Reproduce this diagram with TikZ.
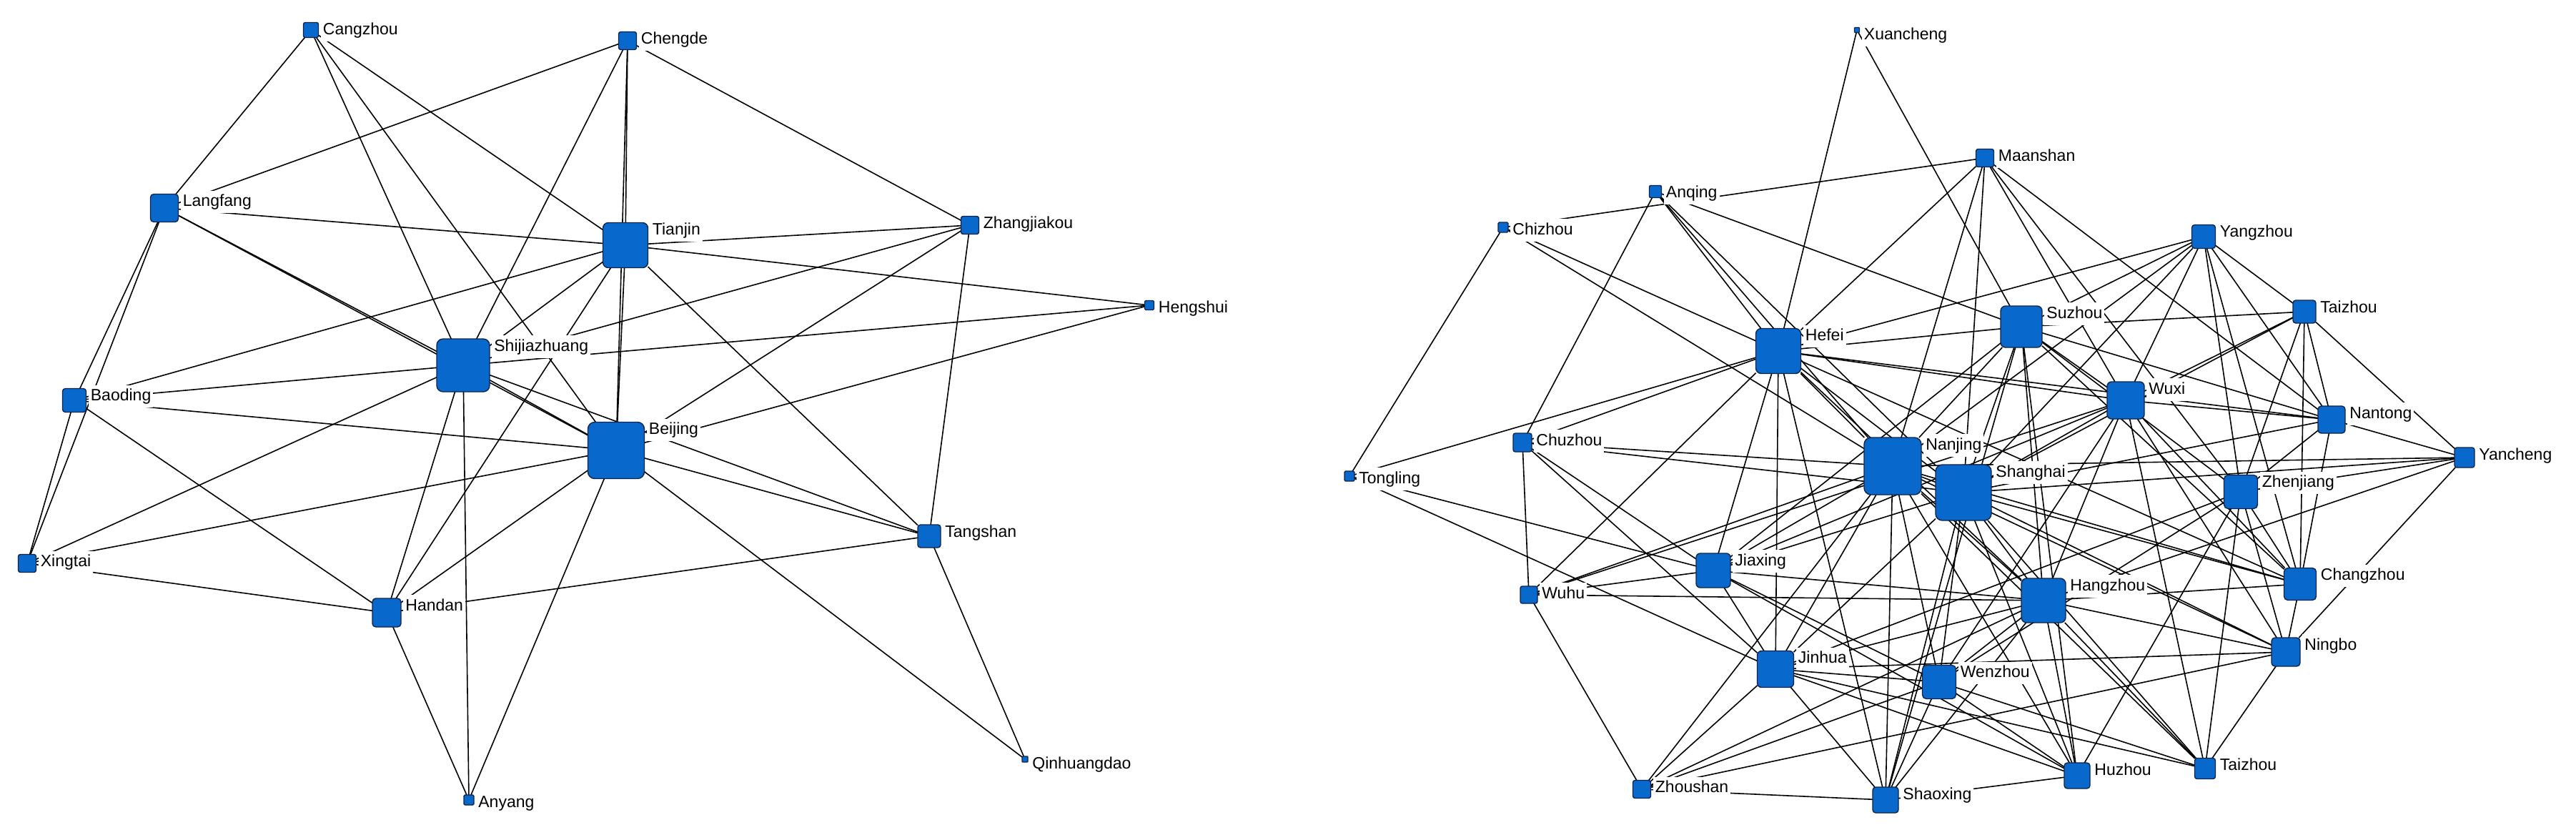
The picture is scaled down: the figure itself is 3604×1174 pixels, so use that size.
\documentclass[tikz,border=0pt]{standalone}
\usepackage{fontspec}
\setmainfont{Liberation Sans}
\definecolor{nodeblue}{RGB}{8,104,204}
\definecolor{nodeborder}{RGB}{16,36,72}
\pgfdeclarelayer{bg}
\pgfdeclarelayer{lab}
\pgfsetlayers{bg,lab,main}
\tikzset{
  cn/.style={rectangle, draw=nodeborder, fill=nodeblue, line width=0.7pt, inner sep=0pt, outer sep=0pt},
  lbl/.style={anchor=north west, fill=white, inner xsep=1.5pt, inner ysep=2.5pt,
              text height=8.3pt, text depth=2.3pt, font=\fontsize{11.5}{12}\selectfont},
  lnk/.style={draw=black, line width=0.8pt}
}
\newcommand\city[5]{%
  \pgfmathsetlengthmacro\csz{#4*0.5pt}%
  \pgfmathsetlengthmacro\crr{#4*0.06pt}%
  \node[cn, minimum size=\csz, rounded corners=\crr] (#1) at (#2,#3) {};
  \begin{pgfonlayer}{lab}
    \node[lbl] (#1-l) at ([xshift=1.5pt,yshift=2.5pt]#1.north east) {#5};
  \end{pgfonlayer}}
\begin{document}
\begin{tikzpicture}[x=0.5pt,y=-0.5pt]
\useasboundingbox (0,0) rectangle (3604,1174);
\begin{pgfonlayer}{bg}
\fill[white] (0,0) rectangle (3604,1174);
\end{pgfonlayer}
% ---------------- left network ----------------
\city{cangzhou}{435}{42}{21}{Cangzhou}
\city{chengde}{878}{57}{25}{Chengde}
\city{langfang}{230}{291}{39}{Langfang}
\city{tianjin}{875}{343}{63}{Tianjin}
\city{zhangjiakou}{1357}{315}{25}{Zhangjiakou}
\city{hengshui}{1608}{427}{13}{Hengshui}
\city{shijiazhuang}{648}{511}{74}{Shijiazhuang}
\city{baoding}{104}{560}{33}{Baoding}
\city{beijing}{862}{630}{79}{Beijing}
\city{tangshan}{1300}{750}{32}{Tangshan}
\city{xingtai}{38}{788}{25}{Xingtai}
\city{handan}{541}{857}{40}{Handan}
\city{anyang}{656}{1119}{14}{Anyang}
\city{qinhuangdao}{1434}{1062}{8}{Qinhuangdao}
% ---------------- right network ----------------
\city{xuancheng}{2598}{42}{7}{Xuancheng}
\city{maanshan}{2777}{221}{25}{Maanshan}
\city{anqing}{2316}{268}{17}{Anqing}
\city{chizhou}{2103}{318}{14}{Chizhou}
\city{yangzhou}{3083}{331}{33}{Yangzhou}
\city{taizhouN}{3224}{436}{32}{Taizhou}
\city{hefei}{2488}{491}{63}{Hefei}
\city{suzhou}{2828}{457}{58}{Suzhou}
\city{wuxi}{2974}{560}{52}{Wuxi}
\city{nantong}{3262}{587}{38}{Nantong}
\city{yancheng}{3448}{640}{28}{Yancheng}
\city{chuzhou}{2130}{619}{26}{Chuzhou}
\city{tongling}{1888}{666}{14}{Tongling}
\city{nanjing}{2648}{652}{80}{Nanjing}
\city{shanghai}{2747}{689}{78}{Shanghai}
\city{zhenjiang}{3135}{688}{47}{Zhenjiang}
\city{jiaxing}{2397}{798}{48}{Jiaxing}
\city{changzhou}{3218}{817}{45}{Changzhou}
\city{wuhu}{2139}{832}{24}{Wuhu}
\city{hangzhou}{2859}{840}{62}{Hangzhou}
\city{ningbo}{3198}{912}{40}{Ningbo}
\city{jinhua}{2484}{936}{51}{Jinhua}
\city{wenzhou}{2713}{954}{47}{Wenzhou}
\city{zhoushan}{2297}{1104}{25}{Zhoushan}
\city{shaoxing}{2638}{1119}{36}{Shaoxing}
\city{huzhou}{2906}{1085}{36}{Huzhou}
\city{taizhouS}{3085}{1075}{29}{Taizhou}
% ---------------- edges ----------------
\begin{pgfonlayer}{bg}
\foreach \a/\b in {
 cangzhou/langfang, cangzhou/shijiazhuang, cangzhou/beijing, cangzhou/tianjin,
 chengde/langfang, chengde/tianjin, chengde/shijiazhuang, chengde/zhangjiakou, chengde/beijing,
 langfang/tianjin, langfang/shijiazhuang, langfang/beijing, langfang/baoding, langfang/xingtai,
 tianjin/zhangjiakou, tianjin/hengshui, tianjin/beijing, tianjin/tangshan, tianjin/baoding,
 tianjin/shijiazhuang, tianjin/handan,
 shijiazhuang/baoding, shijiazhuang/beijing, shijiazhuang/handan, shijiazhuang/xingtai,
 shijiazhuang/anyang, shijiazhuang/zhangjiakou, shijiazhuang/hengshui, shijiazhuang/tangshan,
 beijing/baoding, beijing/xingtai, beijing/handan, beijing/anyang, beijing/tangshan,
 beijing/qinhuangdao, beijing/hengshui, beijing/zhangjiakou,
 zhangjiakou/tangshan, baoding/xingtai, baoding/handan, xingtai/handan,
 handan/anyang, handan/tangshan, tangshan/qinhuangdao}
  \draw[lnk] (\a) -- (\b);
\foreach \a/\b in {
 xuancheng/hefei, xuancheng/suzhou,
 chizhou/maanshan, chizhou/tongling, chizhou/hefei, chizhou/nanjing,
 tongling/hefei, tongling/jinhua, tongling/jiaxing,
 anqing/chuzhou, anqing/hefei, anqing/suzhou, anqing/shanghai, anqing/nanjing,
 maanshan/hefei, maanshan/nanjing, maanshan/shanghai, maanshan/wuxi, maanshan/zhenjiang, maanshan/nantong,
 chuzhou/hefei, chuzhou/wuhu, chuzhou/nanjing, chuzhou/shanghai, chuzhou/jiaxing, chuzhou/jinhua,
 wuhu/zhoushan, wuhu/hefei, wuhu/nanjing, wuhu/jiaxing, wuhu/hangzhou, wuhu/wuxi,
 zhoushan/jinhua, zhoushan/nanjing, zhoushan/hangzhou, zhoushan/ningbo, zhoushan/shaoxing, zhoushan/wenzhou,
 yancheng/nantong, yancheng/taizhouN, yancheng/shanghai, yancheng/zhenjiang, yancheng/nanjing,
 yancheng/hangzhou, yancheng/ningbo,
 nantong/changzhou, nantong/zhenjiang, nantong/taizhouN, nantong/yangzhou, nantong/wuxi,
 nantong/suzhou, nantong/shanghai, nantong/hefei,
 taizhouN/yangzhou, taizhouN/changzhou, taizhouN/suzhou, taizhouN/wuxi, taizhouN/zhenjiang, taizhouN/shanghai,
 yangzhou/zhenjiang, yangzhou/suzhou, yangzhou/hefei, yangzhou/wuxi, yangzhou/nanjing,
 yangzhou/shanghai, yangzhou/changzhou,
 changzhou/ningbo, changzhou/zhenjiang, changzhou/nanjing, changzhou/shanghai, changzhou/suzhou,
 changzhou/wuxi, changzhou/hangzhou, changzhou/hefei,
 ningbo/taizhouS, ningbo/zhenjiang, ningbo/nanjing, ningbo/shanghai, ningbo/hangzhou, ningbo/wuxi, ningbo/jinhua,
 taizhouS/zhenjiang, taizhouS/wenzhou, taizhouS/hangzhou, taizhouS/nanjing, taizhouS/shanghai,
 taizhouS/wuxi, taizhouS/jinhua,
 huzhou/shaoxing, huzhou/hangzhou, huzhou/nanjing, huzhou/shanghai, huzhou/jinhua, huzhou/wenzhou,
 huzhou/zhenjiang, huzhou/jiaxing, huzhou/suzhou,
 shaoxing/jinhua, shaoxing/wenzhou, shaoxing/nanjing, shaoxing/shanghai, shaoxing/hangzhou,
 shaoxing/hefei, shaoxing/suzhou,
 nanjing/shanghai, nanjing/hefei, nanjing/hangzhou, nanjing/suzhou, nanjing/jinhua, nanjing/jiaxing, nanjing/wenzhou,
 shanghai/hefei, shanghai/hangzhou, shanghai/suzhou, shanghai/wuxi, shanghai/jinhua, shanghai/jiaxing, shanghai/wenzhou,
 hefei/suzhou, hefei/hangzhou, hefei/jiaxing, hefei/wuxi, hefei/jinhua,
 hangzhou/suzhou, hangzhou/wuxi, hangzhou/jinhua, hangzhou/jiaxing, hangzhou/wenzhou,
 suzhou/wuxi, suzhou/zhenjiang, suzhou/jiaxing,
 wuxi/jiaxing, wuxi/wenzhou,
 jinhua/jiaxing, jinhua/wenzhou, jinhua/zhenjiang,
 jiaxing/wenzhou, wenzhou/zhenjiang}
  \draw[lnk] (\a) -- (\b);
\end{pgfonlayer}
\end{tikzpicture}
\end{document}
